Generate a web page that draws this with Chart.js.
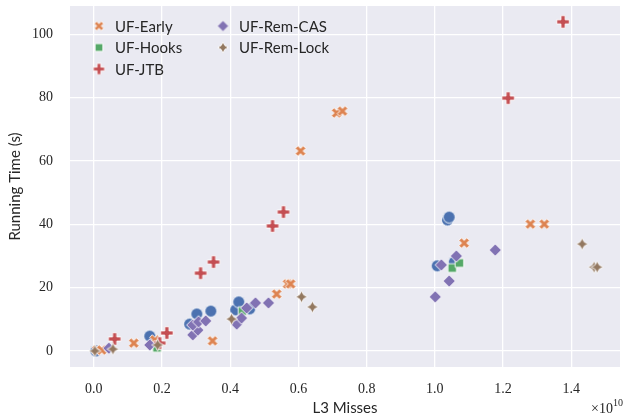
<!DOCTYPE html>
<html>
<head>
<meta charset="utf-8">
<script src="https://cdn.jsdelivr.net/npm/chart.js@4.4.1/dist/chart.umd.min.js"></script>
<style>
  body { margin: 0; background: #fff; }
  canvas { display: block; }
</style>
</head>
<body>
<canvas id="scatter" width="625" height="419"></canvas>
<script>
// valores do eixo x em unidades de 1e10 (L3 misses), y em segundos
const baseX = [0.006, 0.164, 0.281, 0.302, 0.343, 0.416, 0.425, 0.457, 1.007, 1.037, 1.042, 1.057];
const baseY = [0.0, 4.7, 8.5, 11.7, 12.6, 13.0, 15.5, 13.3, 26.9, 41.4, 42.3, 28.1];

const earlyX = [0.009, 0.023, 0.117, 0.179, 0.348, 0.536, 0.568, 0.577, 0.606, 0.712, 0.729, 1.086, 1.280, 1.321];
const earlyY = [0.3, 0.3, 2.5, 3.5, 3.2, 18.0, 21.2, 21.2, 63.2, 75.2, 75.8, 34.1, 40.1, 40.1];

const hooksX = [0.185, 0.436, 1.051, 1.072];
const hooksY = [1.0, 12.6, 26.2, 27.8];

const jtbX = [0.061, 0.193, 0.214, 0.313, 0.351, 0.524, 0.556, 1.215, 1.376];
const jtbY = [3.8, 2.5, 5.7, 24.6, 28.1, 39.5, 43.9, 79.9, 104.0];

const casX = [0.044, 0.164, 0.290, 0.305, 0.290, 0.307, 0.328, 0.419, 0.433, 0.448, 0.474, 0.512, 1.001, 1.019, 1.042, 1.063, 1.177];
const casY = [0.9, 1.9, 5.1, 6.6, 8.2, 9.2, 9.5, 8.5, 10.4, 13.6, 15.2, 15.2, 17.1, 27.2, 22.1, 30.0, 31.9];

const lockX = [0.003, 0.056, 0.187, 0.404, 0.609, 0.641, 1.432, 1.467, 1.476];
const lockY = [0.0, 0.6, 1.9, 10.1, 17.1, 13.9, 33.8, 26.5, 26.5];

const xTicks = [0.0, 0.2, 0.4, 0.6, 0.8, 1.0, 1.2, 1.4];
const yTicks = [0, 20, 40, 60, 80, 100];

// marcadores estilo seaborn
function makeMarker(kind, color, size) {
  const d = Math.ceil(size + 5);
  const cv = document.createElement('canvas');
  cv.width = d; cv.height = d;
  const c = cv.getContext('2d');
  const r = size / 2;
  c.translate(d / 2, d / 2);
  c.beginPath();
  let pts = null;
  if (kind === 'circle') {
    c.arc(0, 0, r, 0, Math.PI * 2);
  } else if (kind === 'plus') {
    pts = [[-1,-3],[1,-3],[1,-1],[3,-1],[3,1],[1,1],[1,3],[-1,3],[-1,1],[-3,1],[-3,-1],[-1,-1]]
      .map(p => [p[0] * r / 3, p[1] * r / 3]);
  } else if (kind === 'x') {
    pts = [[0,0.25],[0.25,0.5],[0.5,0.25],[0.25,0],[0.5,-0.25],[0.25,-0.5],[0,-0.25],
           [-0.25,-0.5],[-0.5,-0.25],[-0.25,0],[-0.5,0.25],[-0.25,0.5]]
      .map(p => [p[0] * 2 * r, p[1] * 2 * r]);
  } else if (kind === 'square') {
    const h = r * 0.72;
    c.rect(-h, -h, 2 * h, 2 * h);
  } else if (kind === 'diamond') {
    pts = [[0, -r], [r, 0], [0, r], [-r, 0]];
  } else if (kind === 'star') {
    pts = [];
    for (let i = 0; i < 8; i++) {
      const ang = -Math.PI / 2 + i * Math.PI / 4;
      const rr = i % 2 === 0 ? r : r * 0.5;
      pts.push([rr * Math.cos(ang), rr * Math.sin(ang)]);
    }
  }
  if (pts) pts.forEach((p, i) => { if (i === 0) c.moveTo(p[0], p[1]); else c.lineTo(p[0], p[1]); });
  c.closePath();
  c.fillStyle = color;
  c.fill();
  c.lineWidth = 0.9;
  c.strokeStyle = '#ffffff';
  c.stroke();
  return cv;
}

const series = [
  { label: 'UF', kind: 'circle', color: '#4C72B0', size: 12, xs: baseX, ys: baseY, legend: false },
  { label: 'UF-Early', kind: 'x', color: '#DD8452', size: 10.5, xs: earlyX, ys: earlyY, legend: true },
  { label: 'UF-Hooks', kind: 'square', color: '#55A868', size: 12, xs: hooksX, ys: hooksY, legend: true },
  { label: 'UF-JTB', kind: 'plus', color: '#C44E52', size: 12.5, xs: jtbX, ys: jtbY, legend: true },
  { label: 'UF-Rem-CAS', kind: 'diamond', color: '#8172B3', size: 12.5, xs: casX, ys: casY, legend: true },
  { label: 'UF-Rem-Lock', kind: 'star', color: '#937860', size: 12, xs: lockX, ys: lockY, legend: true }
];

const datasets = series.map((s, i) => ({
  label: s.label,
  data: s.xs.map((x, j) => ({ x: x, y: s.ys[j] })),
  pointStyle: makeMarker(s.kind, s.color, s.size),
  backgroundColor: s.color,
  order: series.length - i
}));

// legenda em duas colunas dentro do gráfico
const legendPlugin = {
  id: 'seabornLegend',
  afterDraw(chart) {
    const ctx = chart.ctx;
    const area = chart.chartArea;
    const items = series.filter(s => s.legend);
    ctx.save();
    ctx.font = '15px Lato';
    ctx.fillStyle = '#262626';
    ctx.textBaseline = 'middle';
    items.forEach((s, i) => {
      const col = i < 3 ? 0 : 1;
      const row = i < 3 ? i : i - 3;
      const mx = area.left + 29 + col * 124;
      const my = area.top + 20 + row * 21.5;
      const img = makeMarker(s.kind, s.color, s.size * 0.9);
      ctx.drawImage(img, mx - img.width / 2, my - img.height / 2);
      ctx.fillText(s.label, mx + 16, my + 1);
    });
    // multiplicador do eixo x
    ctx.textBaseline = 'alphabetic';
    ctx.textAlign = 'right';
    ctx.font = '10px "Liberation Serif"';
    const supW = ctx.measureText('10').width;
    ctx.fillText('10', 623, 406);
    ctx.font = '14px "Liberation Serif"';
    ctx.fillText('\u00d710', 623 - supW, 413);
    ctx.restore();
  }
};

const bgPlugin = {
  id: 'plotBg',
  beforeDraw(chart) {
    const a = chart.chartArea;
    const ctx = chart.ctx;
    ctx.save();
    ctx.fillStyle = '#EAEAF2';
    ctx.fillRect(a.left, a.top, a.right - a.left, a.bottom - a.top);
    ctx.restore();
  }
};

new Chart(document.getElementById('scatter').getContext('2d'), {
  type: 'scatter',
  data: { datasets: datasets },
  plugins: [bgPlugin, legendPlugin],
  options: {
    responsive: false,
    devicePixelRatio: 1,
    animation: false,
    events: [],
    layout: { padding: { top: 6, right: 4, left: 0, bottom: 0 } },
    plugins: { legend: { display: false }, tooltip: { enabled: false } },
    scales: {
      x: {
        type: 'linear',
        min: -0.07,
        max: 1.543,
        afterFit(scale) {
          scale.height = 52;
          scale.paddingLeft = 0; scale.paddingRight = 0;
        },
        afterBuildTicks(scale) { scale.ticks = xTicks.map(v => ({ value: v })); },
        ticks: {
          padding: 14,
          color: '#262626',
          font: { family: '"Liberation Serif"', size: 14 },
          callback: v => Number(v).toFixed(1)
        },
        grid: { color: '#ffffff', lineWidth: 1.3, drawTicks: false },
        border: { display: false },
        title: {
          display: true,
          text: 'L3 Misses',
          color: '#262626',
          font: { family: 'Lato', size: 15 },
          padding: { top: 0, bottom: 2 }
        }
      },
      y: {
        min: -5.06,
        max: 109,
        afterFit(scale) {
          scale.width = 70;
          scale.paddingTop = 0; scale.paddingBottom = 0;
        },
        afterBuildTicks(scale) { scale.ticks = yTicks.map(v => ({ value: v })); },
        ticks: {
          padding: 17,
          color: '#262626',
          font: { family: '"Liberation Serif"', size: 14 },
          callback: v => String(v)
        },
        grid: { color: '#ffffff', lineWidth: 1.3, drawTicks: false },
        border: { display: false },
        title: {
          display: true,
          text: 'Running Time (s)',
          color: '#262626',
          font: { family: 'Lato', size: 15 },
          padding: { top: 6, bottom: 0 }
        }
      }
    }
  }
});
</script>
</body>
</html>
